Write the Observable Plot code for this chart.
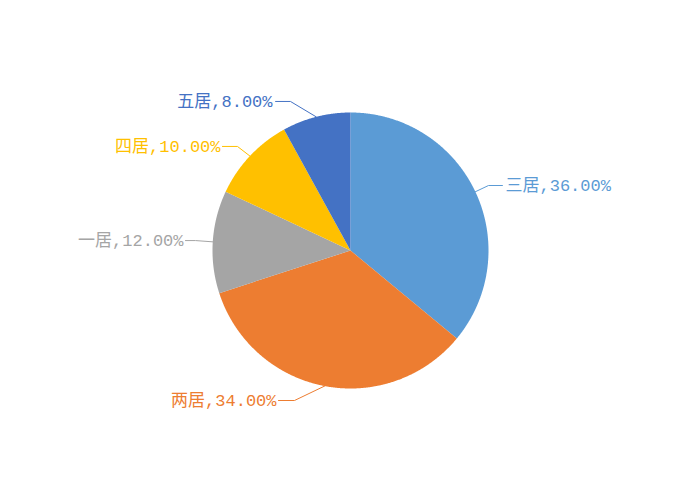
<!DOCTYPE html>
<html><head><meta charset="utf-8">
<script src="https://cdn.jsdelivr.net/npm/d3@7"></script>
<script src="https://cdn.jsdelivr.net/npm/@observablehq/plot@0.6"></script>
<style>body{margin:0;background:#fff}</style>
</head><body><div id="chart"></div>
<script>
const categories = ["三居", "两居", "一居", "四居", "五居"];
const values = [36, 34, 12, 10, 8];
const colors = ["#5B9BD5", "#ED7D31", "#A5A5A5", "#FFC000", "#4472C4"];

// leader-line elbows and label anchors, in pie-radius units
const elbowX = [1.0, -0.406, -1.123, -0.819, -0.435];
const elbowY = [0.471, -1.087, 0.072, 0.754, 1.080];
const endX = [1.101, -0.522, -1.196, -0.928, -0.543];
const textX = [1.123, -0.536, -1.210, -0.942, -0.565];
const anchors = ["start", "end", "end", "end", "end"];

const total = d3.sum(values);
const R = 138, W = 700, H = 500;
let acc = 0;
const slices = categories.map((c, i) => {
  const a0 = acc / total * 2 * Math.PI;
  acc += values[i];
  const a1 = acc / total * 2 * Math.PI;
  const pts = [{x: 0, y: 0}];
  const n = Math.max(2, Math.ceil((a1 - a0) / 0.005));
  for (let k = 0; k <= n; k++) {
    const a = a0 + (a1 - a0) * k / n;
    pts.push({x: Math.sin(a), y: Math.cos(a)});
  }
  pts.push({x: 0, y: 0});
  const mid = (a0 + a1) / 2;
  const pct = (values[i] / total * 100).toFixed(2) + "%";
  return {c, i, pts, mid, label: c + "," + pct};
});

const font = "'Liberation Mono', 'Noto Sans CJK SC', monospace";
const marks = [];
slices.forEach(s => {
  marks.push(Plot.line(s.pts, {x: "x", y: "y", fill: colors[s.i], stroke: "none", curve: "linear"}));
});
slices.forEach(s => {
  const i = s.i;
  const leader = [
    {x: Math.sin(s.mid), y: Math.cos(s.mid)},
    {x: elbowX[i], y: elbowY[i]},
    {x: endX[i], y: elbowY[i]}
  ];
  marks.push(Plot.line(leader, {x: "x", y: "y", stroke: colors[i], strokeWidth: 1}));
  marks.push(Plot.text([s], {
    x: () => textX[i], y: () => elbowY[i], text: "label",
    textAnchor: anchors[i], fill: colors[i], fontSize: 17, fontFamily: font,
    lineAnchor: "middle"
  }));
});

const chart = Plot.plot({
  width: W, height: H, margin: 0,
  x: {domain: [-W / 2 / R, W / 2 / R], axis: null},
  y: {domain: [-H / 2 / R, H / 2 / R], axis: null},
  style: {background: "#fff"},
  marks
});
document.getElementById("chart").appendChild(chart);
</script>
</body></html>
